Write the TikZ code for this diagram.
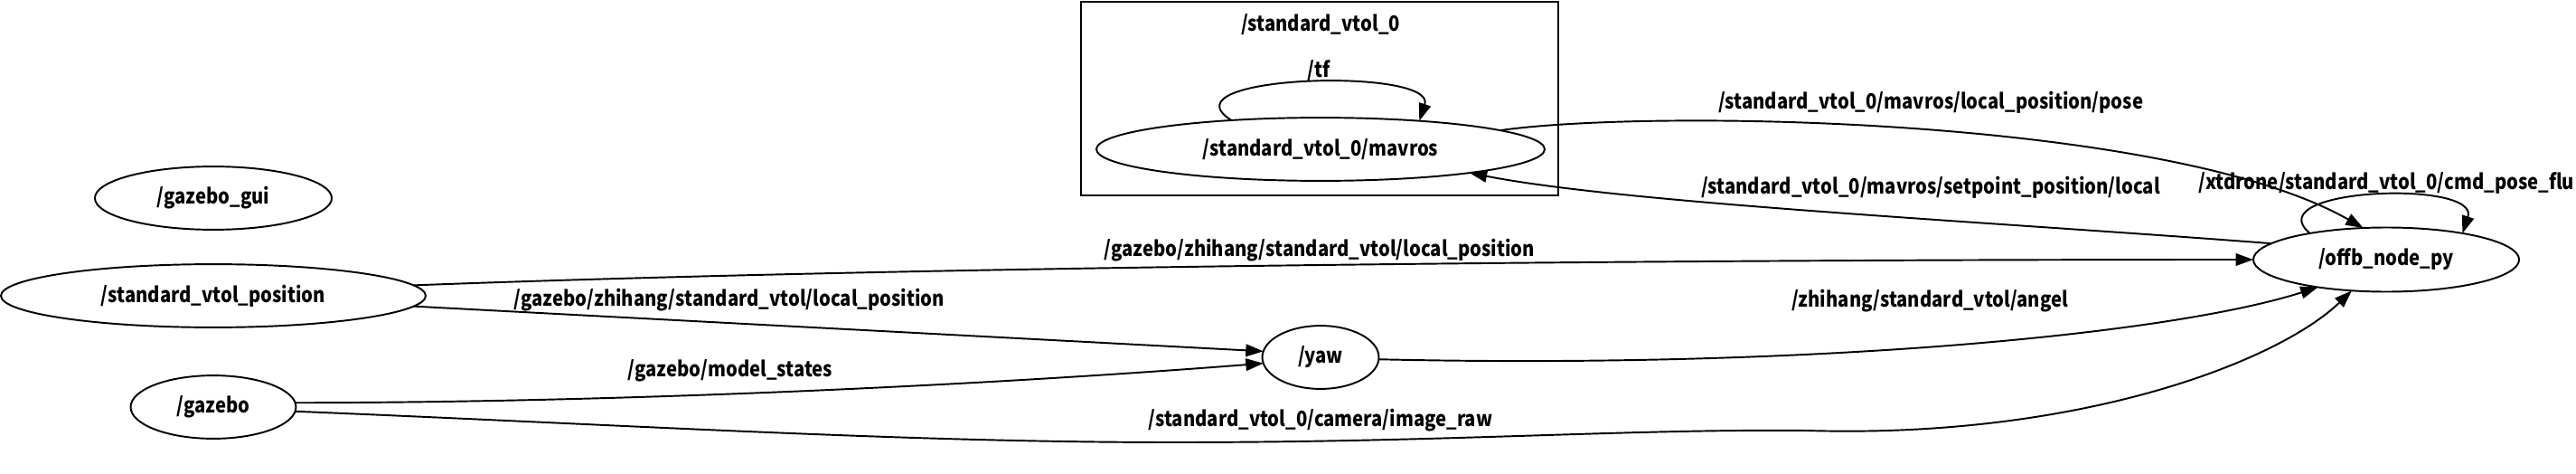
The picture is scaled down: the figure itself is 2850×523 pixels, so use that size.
\documentclass[tikz,border=0pt]{standalone}
\usepackage{fontspec}
\setmainfont{Noto Sans CJK SC}[FakeStretch=0.87]
\usetikzlibrary{shapes.geometric,arrows.meta}
\tikzset{
  rosnode/.style={ellipse, draw, line width=1pt, inner sep=0pt, outer sep=0pt, minimum height=36pt, font=\fontsize{12}{14}\selectfont\bfseries},
  lab/.style={inner sep=0pt, font=\fontsize{12}{14}\selectfont\bfseries},
  arr/.style={line width=1pt, -{Triangle[length=10pt,width=7pt]}},
  clusterbox/.style={draw, line width=0.8pt}
}
\begin{document}
\begin{tikzpicture}[x=0.5155pt, y=-0.5155pt]
\useasboundingbox (0,0) rectangle (2850,523);
% cluster
\draw[clusterbox] (1196,2) rectangle (1724,216);
\node[lab] (clab) at (1461,27) {/standard\_vtol\_0};
% nodes
\node[rosnode, minimum width=135.1pt] (gui) at (236,219) {/gazebo\_gui};
\node[rosnode, minimum width=242.3pt] (svp) at (236,327) {/standard\_vtol\_position};
\node[rosnode, minimum width=94.3pt] (gz) at (236,450) {/gazebo};
\node[rosnode, minimum width=66.5pt] (yaw) at (1461,395) {/yaw};
\node[rosnode, minimum width=151.6pt, minimum height=36.6pt] (offb) at (2640,287) {/offb\_node\_py};
\node[rosnode, minimum width=255.7pt] (mav) at (1461,165) {/standard\_vtol\_0/mavros};
% edges
\draw[arr] (svp.3) .. controls (1000,295) and (1800,287) .. (offb.180);
\draw[arr] (svp.-3.5) -- (yaw.174);
\draw[arr] (gz.3) .. controls (700,445) and (1100,425) .. (yaw.186);
\draw[arr] (gz.-3.5) .. controls (700,470) and (1000,489) .. (1300,489)
  .. controls (1600,489) and (1800,474) .. (2000,476)
  .. controls (2300,485) and (2520,400) .. (offb.222);
\draw[arr] (yaw.-2) .. controls (2000,408) and (2400,370) .. (offb.202);
\draw[arr] (mav.6.5) .. controls (1830,120) and (2400,130) .. (offb.126.5);
\draw[arr] (offb.172) .. controls (2200,245) and (1800,225) .. (mav.-9.5);
\draw[arr] (mav.162) .. controls +(-80,-50) and +(20,-60) .. (mav.16);
\draw[arr] (offb.161) .. controls +(-60,-50) and +(20,-60) .. (offb.19);
% labels
\node[lab] (l1) at (1460,277) {/gazebo/zhihang/standard\_vtol/local\_position};
\node[lab] (l2) at (807,332) {/gazebo/zhihang/standard\_vtol/local\_position};
\node[lab] (l3) at (808,410) {/gazebo/model\_states};
\node[lab] (l4) at (1461,465) {/standard\_vtol\_0/camera/image\_raw};
\node[lab] (l5) at (2135,333) {/zhihang/standard\_vtol/angel};
\node[lab] (l6) at (2136,113) {/standard\_vtol\_0/mavros/local\_position/pose};
\node[lab] (l7) at (2136,207) {/standard\_vtol\_0/mavros/setpoint\_position/local};
\node[lab] (l8) at (1459,78) {/tf};
\node[lab, anchor=west] (l9) at (2432,202) {/xtdrone/standard\_vtol\_0/cmd\_pose\_flu};
\end{tikzpicture}
\end{document}
